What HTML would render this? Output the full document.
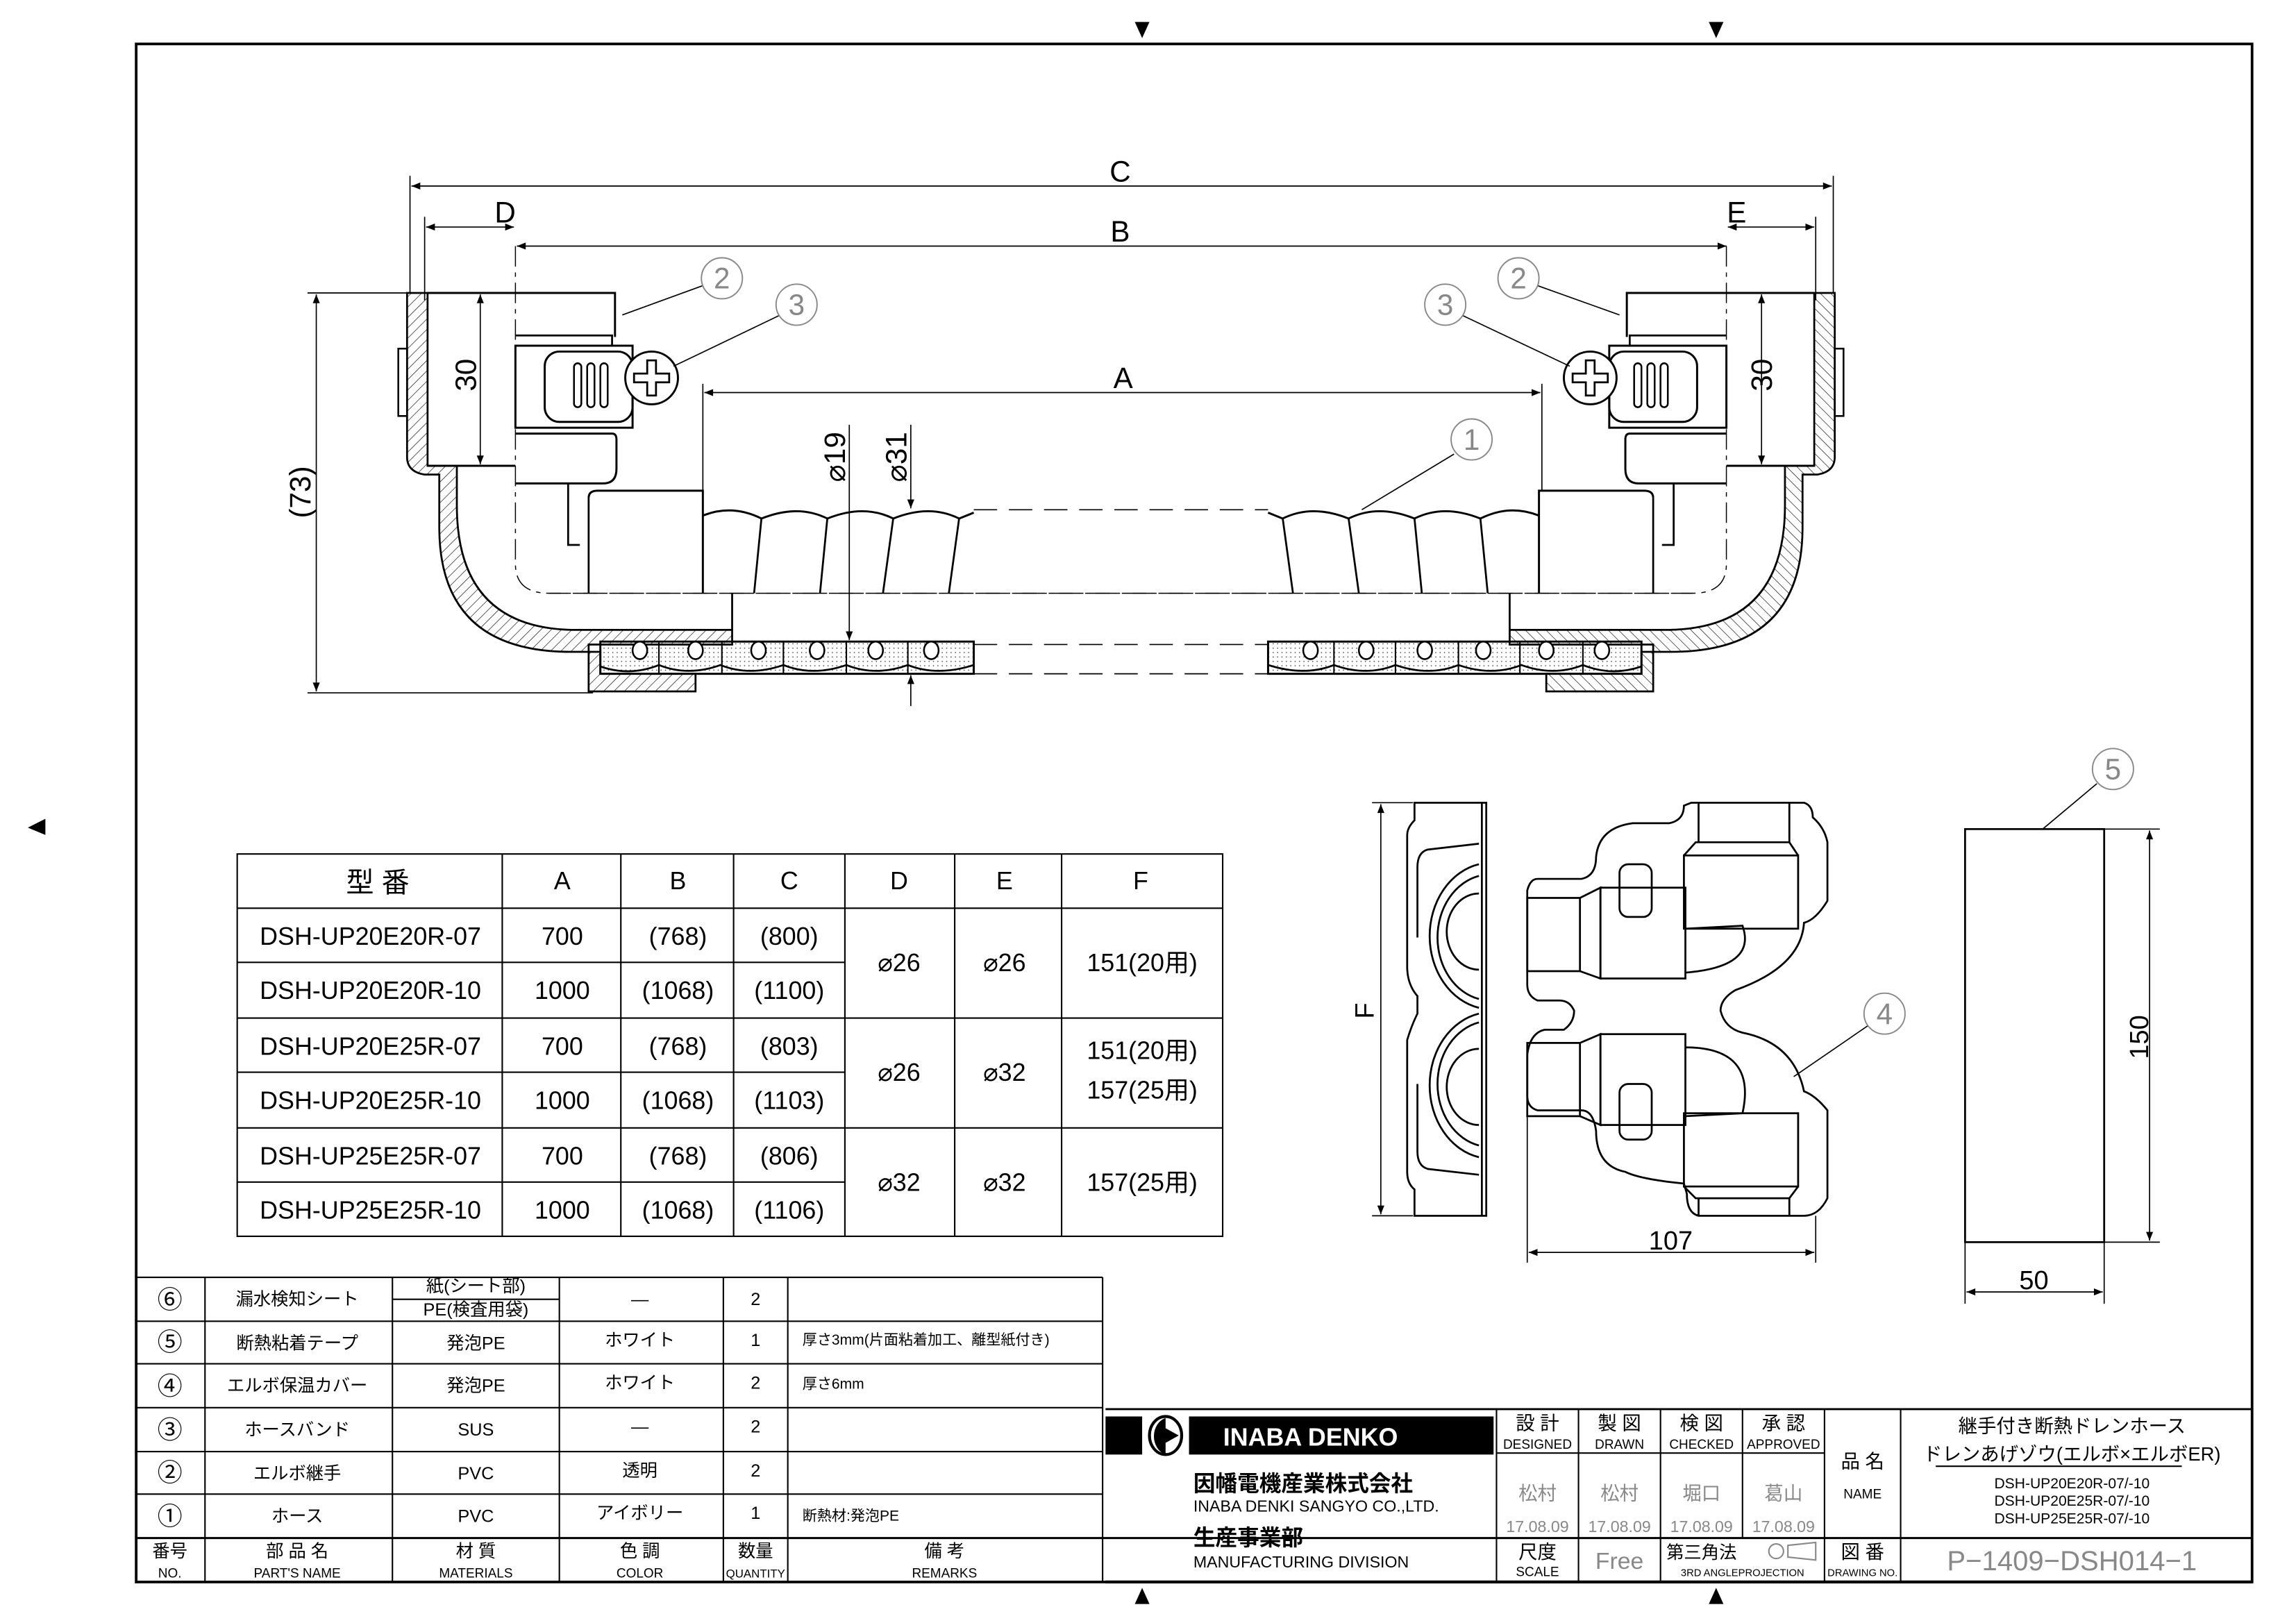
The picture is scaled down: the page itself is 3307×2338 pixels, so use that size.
<!DOCTYPE html>
<html><head><meta charset="utf-8"><style>
html,body{margin:0;padding:0;background:#fff;}
svg{display:block;}
text{font-family:"Liberation Sans","Noto Sans CJK JP",sans-serif;fill:#000;}
</style></head><body>
<svg width="3307" height="2338" viewBox="0 0 1568 1108" preserveAspectRatio="none" xmlns="http://www.w3.org/2000/svg">
<defs>
<pattern id="h" width="5" height="5" patternUnits="userSpaceOnUse" patternTransform="rotate(45)"><line x1="0" y1="0" x2="0" y2="5" stroke="#000" stroke-width="0.6"/></pattern>
<pattern id="d" width="3" height="3" patternUnits="userSpaceOnUse"><circle cx="1.5" cy="1.5" r="0.4" fill="#444"/></pattern>
<marker id="a" viewBox="0 0 10 10" refX="10" refY="5" markerWidth="8" markerHeight="6" orient="auto-start-reverse" markerUnits="userSpaceOnUse"><path d="M0,1 L10,5 L0,9z" fill="#000"/></marker>
<g id="elbow" fill="none" stroke="#000">
 <path d="M278,200 L292,200 L292,318 L312,318 L312,345 Q312,428 390,430 L500,430 L500,440 L402,440 L402,472 L475,472 L475,460 L410,460 L410,445 L390,445 Q300,445 300,360 L300,324 L290,324 Q278,322 278,312 Z" fill="url(#h)" stroke-width="1.3"/>
 <rect x="272" y="238" width="6" height="46" stroke-width="1.2"/>
 <path d="M292,200 L420,200 L420,230" stroke-width="1.4"/>
 <path d="M292,318 L352,318" stroke-width="1.4"/>
 <path d="M352,229 L418,229 L418,236" stroke-width="1.3"/>
 <rect x="352" y="236" width="80" height="56" stroke-width="1.4"/>
 <rect x="372" y="240" width="60" height="48" rx="10" stroke-width="1.4"/>
 <rect x="392" y="248" width="5" height="30" rx="2.5" stroke-width="1.2"/>
 <rect x="401" y="248" width="5" height="30" rx="2.5" stroke-width="1.2"/>
 <rect x="410" y="248" width="5" height="30" rx="2.5" stroke-width="1.2"/>
 <circle cx="445" cy="258" r="18" fill="#fff" stroke-width="1.4"/>
 <path d="M433,255 L442,255 L442,246 L448,246 L448,255 L457,255 L457,261 L448,261 L448,270 L442,270 L442,261 L433,261 Z" stroke-width="1.3"/>
 <path d="M352,296 L418,296 Q421,296 421,300 L421,320 Q421,330 412,330 L352,330" stroke-width="1.4"/>
 <path d="M388,330 L388,372 L396,372" stroke-width="1.3"/>
 <path d="M402,340 Q402,335 408,335 L480,335 L480,405" stroke-width="1.4"/>
 <path d="M402,340 L402,405" stroke-width="1.3"/>
 <path d="M352,168 L352,385 Q352,405 375,405 L1156,405" stroke-width="0.7" stroke-dasharray="14,4,3,4"/>
 <path d="M480,352 Q500,344 520,354 Q545,344 565,354 Q590,344 610,354 Q635,344 655,354 L665,350" stroke-width="1.4"/>
 <line x1="520" y1="354" x2="515" y2="405" stroke-width="1.3"/>
 <line x1="565" y1="354" x2="560" y2="405" stroke-width="1.3"/>
 <line x1="610" y1="354" x2="603" y2="405" stroke-width="1.3"/>
 <line x1="655" y1="354" x2="648" y2="405" stroke-width="1.3"/>
 <line x1="500" y1="405" x2="500" y2="430" stroke-width="1.3"/>
 <rect x="410" y="438" width="255" height="22" fill="url(#d)" stroke-width="1.4"/>
 <path d="M410,455 Q430,462 450,454 Q470,462 492,454 Q512,462 535,454 Q555,462 578,454 Q598,462 620,454 Q640,462 665,454" stroke-width="1.3"/>
 <g stroke-width="1.2" fill="#fff">
  <ellipse cx="437" cy="444" rx="5" ry="6"/><ellipse cx="475" cy="444" rx="5" ry="6"/><ellipse cx="518" cy="444" rx="5" ry="6"/><ellipse cx="558" cy="444" rx="5" ry="6"/><ellipse cx="598" cy="444" rx="5" ry="6"/><ellipse cx="636" cy="444" rx="5" ry="6"/>
 </g>
 <g stroke-width="1"><line x1="450" y1="438" x2="450" y2="460"/><line x1="493" y1="438" x2="493" y2="460"/><line x1="535" y1="438" x2="535" y2="460"/><line x1="578" y1="438" x2="578" y2="460"/><line x1="620" y1="438" x2="620" y2="460"/></g>
</g>
</defs>

<rect x="93" y="30" width="1445" height="1050" fill="none" stroke="#000" stroke-width="1.8"/>
<path d="M775,15 L785,15 L780,26z M1167,15 L1177,15 L1172,26z M775,1095 L785,1095 L780,1084z M1167,1095 L1177,1095 L1172,1084z M31,559 L31,570 L19,565z" fill="#000"/>

<use href="#elbow"/>
<use href="#elbow" transform="translate(1531,0) scale(-1,1)"/>
<g stroke="#000" stroke-width="0.8" stroke-dasharray="16,8">
 <line x1="665" y1="348" x2="866" y2="348"/><line x1="665" y1="440" x2="866" y2="440"/><line x1="665" y1="460" x2="866" y2="460"/>
</g>

<g stroke="#000" stroke-width="0.8" fill="none">
 <line x1="280" y1="120" x2="280" y2="200"/><line x1="1252" y1="120" x2="1252" y2="200"/>
 <line x1="281" y1="127" x2="1251" y2="127" marker-start="url(#a)" marker-end="url(#a)"/>
 <line x1="290" y1="148" x2="290" y2="205"/><line x1="1240" y1="148" x2="1240" y2="205"/>
 <line x1="291" y1="155" x2="351" y2="155" marker-start="url(#a)" marker-end="url(#a)"/>
 <line x1="1180" y1="155" x2="1239" y2="155" marker-start="url(#a)" marker-end="url(#a)"/>
 <line x1="353" y1="168" x2="1179" y2="168" marker-start="url(#a)" marker-end="url(#a)"/>
 <line x1="481" y1="268" x2="1052" y2="268" marker-start="url(#a)" marker-end="url(#a)"/>
 <line x1="480" y1="262" x2="480" y2="335"/><line x1="1053" y1="262" x2="1053" y2="335"/>
 <line x1="328" y1="201" x2="328" y2="317" marker-start="url(#a)" marker-end="url(#a)"/>
 <line x1="1203" y1="201" x2="1203" y2="317" marker-start="url(#a)" marker-end="url(#a)"/>
 <line x1="210" y1="200" x2="278" y2="200"/><line x1="210" y1="473" x2="405" y2="473"/>
 <line x1="216" y1="201" x2="216" y2="472" marker-start="url(#a)" marker-end="url(#a)"/>
 <line x1="580" y1="290" x2="580" y2="437" marker-end="url(#a)"/>
 <line x1="622" y1="290" x2="622" y2="347" marker-end="url(#a)"/>
 <line x1="622" y1="482" x2="622" y2="461" marker-end="url(#a)"/>
 <line x1="425" y1="215" x2="480" y2="195"/><line x1="460" y1="250" x2="533" y2="215"/>
 <line x1="1106" y1="215" x2="1050" y2="195"/><line x1="1072" y1="250" x2="998" y2="215"/>
 <line x1="930" y1="348" x2="993" y2="310"/>
 <line x1="1225" y1="735" x2="1276" y2="700"/>
 <line x1="1395" y1="566" x2="1432" y2="535"/>
</g>
<g font-size="20" text-anchor="middle">
 <text x="765" y="124">C</text><text x="345" y="152">D</text><text x="1186" y="152">E</text>
 <text x="765" y="165">B</text><text x="767" y="265">A</text>
 <text transform="translate(325,256) rotate(-90)">30</text>
 <text transform="translate(1210,256) rotate(-90)">30</text>
 <text transform="translate(212,336) rotate(-90)">(73)</text>
 <text transform="translate(577,312) rotate(-90)">⌀19</text>
 <text transform="translate(619,312) rotate(-90)">⌀31</text>
</g>
<g fill="#fff" stroke="#888" stroke-width="0.9">
 <circle cx="493" cy="190" r="14"/><circle cx="544" cy="208" r="14"/><circle cx="1005" cy="300" r="14"/>
 <circle cx="1037" cy="190" r="14"/><circle cx="987" cy="208" r="14"/><circle cx="1443" cy="525" r="14"/><circle cx="1287" cy="692" r="14"/>
</g>
<g font-size="20" text-anchor="middle">
 <text x="493" y="197" style="fill:#888">2</text><text x="544" y="215" style="fill:#888">3</text><text x="1005" y="307" style="fill:#888">1</text>
 <text x="1037" y="197" style="fill:#888">2</text><text x="987" y="215" style="fill:#888">3</text><text x="1443" y="532" style="fill:#888">5</text><text x="1287" y="699" style="fill:#888">4</text>
</g>

<g fill="none" stroke="#000" stroke-width="1.3">
 <path d="M966,548 L1015,548 L1015,830 L966,830 L966,812 Q961,808 961,800 L961,710 Q964,700 968,692 L968,680 Q961,672 961,660 L961,570 Q961,565 966,560 Z"/>
 <line x1="1012" y1="548" x2="1012" y2="830"/>
 <path d="M1010,576 L975,580 Q968,582 968,592 L968,640"/>
 <path d="M1010,802 L975,798 Q968,796 968,786 L968,740"/>
 <path d="M1010,590 A42,50 0 0 0 1010,688"/><path d="M1010,598 A36,43 0 0 0 1010,682"/>
 <path d="M1010,610 A22,26 0 0 0 1010,662"/>
 <path d="M1010,692 A42,50 0 0 0 1010,790"/><path d="M1010,698 A36,43 0 0 0 1010,782"/>
 <path d="M1010,716 A22,26 0 0 0 1010,768"/>
</g>
<g fill="none" stroke="#000" stroke-width="1.3">
 <path d="M1050,600 L1080,600 Q1090,598 1090,585 Q1092,565 1115,562 L1140,562 Q1150,560 1150,550 L1155,548 L1232,548 Q1238,550 1238,558 Q1246,565 1248,575 L1248,615 Q1240,628 1232,630 Q1230,660 1185,676 Q1175,682 1175,690 Q1178,702 1190,705 Q1225,712 1232,745 Q1240,748 1248,758 L1248,818 Q1242,830 1232,830 L1160,830 Q1152,828 1152,815 L1150,808 Q1120,805 1110,800 Q1090,796 1090,772 Q1088,758 1080,758 L1050,758 Q1043,756 1043,748 L1043,720 Q1045,705 1055,703 L1068,703 Q1075,698 1075,690 Q1072,683 1065,683 L1050,683 Q1043,680 1043,672 L1043,608 Q1045,600 1050,600 Z"/>
 <rect x="1043" y="613" width="36" height="50"/><path d="M1079,613 L1093,606 L1093,668 L1079,663"/>
 <rect x="1093" y="606" width="58" height="62"/>
 <rect x="1106" y="590" width="22" height="36" rx="6"/>
 <rect x="1150" y="584" width="78" height="50"/><path d="M1150,584 L1158,575 L1222,575 L1228,584"/>
 <path d="M1151,634 L1190,632 Q1200,660 1151,664"/>
 <line x1="1160" y1="548" x2="1160" y2="575"/><line x1="1222" y1="548" x2="1222" y2="575"/>
 <rect x="1043" y="712" width="36" height="50"/><path d="M1079,712 L1093,706 L1093,768 L1079,762"/>
 <rect x="1093" y="706" width="58" height="62"/>
 <rect x="1106" y="740" width="22" height="38" rx="6"/>
 <rect x="1150" y="760" width="78" height="50"/><path d="M1150,810 L1158,818 L1222,818 L1228,810"/>
 <path d="M1151,715 Q1200,715 1190,760 L1151,762"/>
 <line x1="1160" y1="818" x2="1160" y2="830"/><line x1="1222" y1="818" x2="1222" y2="830"/>
</g>
<g stroke="#000" stroke-width="0.8" fill="none">
 <line x1="937" y1="548" x2="965" y2="548"/><line x1="937" y1="830" x2="965" y2="830"/>
 <line x1="943" y1="549" x2="943" y2="829" marker-start="url(#a)" marker-end="url(#a)"/>
 <line x1="1043" y1="760" x2="1043" y2="862"/><line x1="1240" y1="830" x2="1240" y2="862"/>
 <line x1="1044" y1="855" x2="1239" y2="855" marker-start="url(#a)" marker-end="url(#a)"/>
 <rect x="1342" y="566" width="95" height="282" stroke-width="1.3"/>
 <line x1="1437" y1="566" x2="1475" y2="566"/><line x1="1437" y1="848" x2="1475" y2="848"/>
 <line x1="1468" y1="567" x2="1468" y2="847" marker-start="url(#a)" marker-end="url(#a)"/>
 <line x1="1342" y1="848" x2="1342" y2="890"/><line x1="1437" y1="848" x2="1437" y2="890"/>
 <line x1="1343" y1="882" x2="1436" y2="882" marker-start="url(#a)" marker-end="url(#a)"/>
</g>
<g font-size="18" text-anchor="middle">
 <text transform="translate(938,690) rotate(-90)">F</text>
 <text x="1141" y="853">107</text>
 <text transform="translate(1467,708) rotate(-90)">150</text>
 <text x="1389" y="880">50</text>
</g>

<g stroke="#000" stroke-width="1" fill="none">
 <rect x="162" y="583" width="673" height="261"/>
 <line x1="162" y1="620" x2="835" y2="620"/>
 <line x1="162" y1="657" x2="577" y2="657"/>
 <line x1="162" y1="695" x2="835" y2="695"/>
 <line x1="162" y1="732" x2="577" y2="732"/>
 <line x1="162" y1="770" x2="835" y2="770"/>
 <line x1="162" y1="807" x2="577" y2="807"/>
 <line x1="343" y1="583" x2="343" y2="844"/><line x1="424" y1="583" x2="424" y2="844"/>
 <line x1="501" y1="583" x2="501" y2="844"/><line x1="577" y1="583" x2="577" y2="844"/>
 <line x1="652" y1="583" x2="652" y2="844"/><line x1="725" y1="583" x2="725" y2="844"/>
</g>
<g font-size="17" text-anchor="middle">
 <text x="258" y="609" font-size="19">型 番</text><text x="384" y="607">A</text><text x="463" y="607">B</text><text x="539" y="607">C</text><text x="614" y="607">D</text><text x="686" y="607">E</text><text x="779" y="607">F</text>
 <text x="253" y="645">DSH-UP20E20R-07</text><text x="384" y="645">700</text><text x="463" y="645">(768)</text><text x="539" y="645">(800)</text>
 <text x="253" y="682">DSH-UP20E20R-10</text><text x="384" y="682">1000</text><text x="463" y="682">(1068)</text><text x="539" y="682">(1100)</text>
 <text x="253" y="720">DSH-UP20E25R-07</text><text x="384" y="720">700</text><text x="463" y="720">(768)</text><text x="539" y="720">(803)</text>
 <text x="253" y="757">DSH-UP20E25R-10</text><text x="384" y="757">1000</text><text x="463" y="757">(1068)</text><text x="539" y="757">(1103)</text>
 <text x="253" y="795">DSH-UP25E25R-07</text><text x="384" y="795">700</text><text x="463" y="795">(768)</text><text x="539" y="795">(806)</text>
 <text x="253" y="832">DSH-UP25E25R-10</text><text x="384" y="832">1000</text><text x="463" y="832">(1068)</text><text x="539" y="832">(1106)</text>
 <text x="614" y="663">⌀26</text><text x="686" y="663">⌀26</text><text x="780" y="663">151(20用)</text>
 <text x="614" y="738">⌀26</text><text x="686" y="738">⌀32</text><text x="780" y="723">151(20用)</text><text x="780" y="750">157(25用)</text>
 <text x="614" y="813">⌀32</text><text x="686" y="813">⌀32</text><text x="780" y="813">157(25用)</text>
</g>

<g stroke="#000" stroke-width="1" fill="none">
 <line x1="93" y1="872" x2="753" y2="872"/>
 <line x1="93" y1="902" x2="753" y2="902"/><line x1="93" y1="931" x2="753" y2="931"/>
 <line x1="93" y1="961" x2="753" y2="961"/><line x1="93" y1="991" x2="753" y2="991"/>
 <line x1="93" y1="1020" x2="753" y2="1020"/><line x1="93" y1="1050" x2="1538" y2="1050" stroke-width="1.4"/>
 <line x1="268" y1="887" x2="382" y2="887"/>
 <line x1="140" y1="872" x2="140" y2="1080"/><line x1="268" y1="872" x2="268" y2="1080"/>
 <line x1="382" y1="872" x2="382" y2="1080"/><line x1="494" y1="872" x2="494" y2="1080"/>
 <line x1="538" y1="872" x2="538" y2="1080"/><line x1="753" y1="872" x2="753" y2="1080"/>
</g>
<g font-size="12" text-anchor="middle">
 <text x="116" y="893" font-size="17">⑥</text><text x="116" y="922" font-size="17">⑤</text><text x="116" y="952" font-size="17">④</text>
 <text x="116" y="982" font-size="17">③</text><text x="116" y="1011" font-size="17">②</text><text x="116" y="1041" font-size="17">①</text>
 <text x="203" y="891">漏水検知シート</text><text x="325" y="882">紙(シート部)</text><text x="325" y="898">PE(検査用袋)</text><text x="437" y="891">—</text><text x="516" y="891">2</text>
 <text x="203" y="921">断熱粘着テープ</text><text x="325" y="921">発泡PE</text><text x="437" y="919">ホワイト</text><text x="516" y="919">1</text><text x="548" y="918" text-anchor="start" font-size="10">厚さ3mm(片面粘着加工、離型紙付き)</text>
 <text x="203" y="950">エルボ保温カバー</text><text x="325" y="950">発泡PE</text><text x="437" y="948">ホワイト</text><text x="516" y="948">2</text><text x="548" y="948" text-anchor="start" font-size="10">厚さ6mm</text>
 <text x="203" y="980">ホースバンド</text><text x="325" y="980">SUS</text><text x="437" y="978">—</text><text x="516" y="978">2</text>
 <text x="203" y="1010">エルボ継手</text><text x="325" y="1010">PVC</text><text x="437" y="1008">透明</text><text x="516" y="1008">2</text>
 <text x="203" y="1039">ホース</text><text x="325" y="1039">PVC</text><text x="437" y="1037">アイボリー</text><text x="516" y="1037">1</text><text x="548" y="1038" text-anchor="start" font-size="10">断熱材:発泡PE</text>
 <text x="116" y="1063">番号</text><text x="116" y="1077" font-size="9">NO.</text>
 <text x="203" y="1063">部 品 名</text><text x="203" y="1077" font-size="9">PART'S NAME</text>
 <text x="325" y="1063">材 質</text><text x="325" y="1077" font-size="9">MATERIALS</text>
 <text x="437" y="1063">色 調</text><text x="437" y="1077" font-size="9">COLOR</text>
 <text x="516" y="1063">数量</text><text x="516" y="1077" font-size="8">QUANTITY</text>
 <text x="645" y="1063">備 考</text><text x="645" y="1077" font-size="9">REMARKS</text>
</g>

<g stroke="#000" stroke-width="1" fill="none">
 <line x1="755" y1="962" x2="1538" y2="962" stroke-width="1.4"/>
 <line x1="1022" y1="962" x2="1022" y2="1080"/><line x1="1078" y1="962" x2="1078" y2="1080"/>
 <line x1="1134" y1="962" x2="1134" y2="1080"/><line x1="1190" y1="962" x2="1190" y2="1050"/>
 <line x1="1246" y1="962" x2="1246" y2="1080"/><line x1="1298" y1="962" x2="1298" y2="1080"/>
 <line x1="1022" y1="992" x2="1246" y2="992"/>
 <line x1="1322" y1="1001" x2="1490" y2="1001"/>
</g>
<rect x="755" y="967" width="25" height="26" fill="#000"/>
<ellipse cx="796" cy="980" rx="11" ry="13" fill="#fff" stroke="#000" stroke-width="2"/>
<path d="M796,968 A11,13 0 0 0 796,993 L796,985 L805,980 L796,975 Z" fill="#000"/>
<rect x="812" y="967" width="208" height="26" fill="#000"/>
<text x="895" y="987" font-size="17" font-weight="bold" text-anchor="middle" style="fill:#fff">INABA DENKO</text>
<g font-size="12">
 <text x="815" y="1018" font-size="15" font-weight="bold">因幡電機産業株式会社</text>
 <text x="815" y="1032" font-size="11">INABA DENKI SANGYO CO.,LTD.</text>
 <text x="815" y="1055" font-size="15" font-weight="bold">生産事業部</text>
 <text x="815" y="1070" font-size="11">MANUFACTURING DIVISION</text>
</g>
<g font-size="13" text-anchor="middle">
 <text x="1050" y="976">設 計</text><text x="1050" y="989" font-size="9">DESIGNED</text>
 <text x="1106" y="976">製 図</text><text x="1106" y="989" font-size="9">DRAWN</text>
 <text x="1162" y="976">検 図</text><text x="1162" y="989" font-size="9">CHECKED</text>
 <text x="1218" y="976">承 認</text><text x="1218" y="989" font-size="9">APPROVED</text>
 <text x="1050" y="1024" style="fill:#888">松村</text><text x="1106" y="1024" style="fill:#888">松村</text>
 <text x="1162" y="1024" style="fill:#888">堀口</text><text x="1218" y="1024" style="fill:#888">葛山</text>
 <text x="1050" y="1046" font-size="11" style="fill:#888">17.08.09</text><text x="1106" y="1046" font-size="11" style="fill:#888">17.08.09</text>
 <text x="1162" y="1046" font-size="11" style="fill:#888">17.08.09</text><text x="1218" y="1046" font-size="11" style="fill:#888">17.08.09</text>
 <text x="1272" y="1002">品 名</text><text x="1272" y="1023" font-size="9">NAME</text>
 <text x="1415" y="978">継手付き断熱ドレンホース</text>
 <text x="1415" y="997">ドレンあげゾウ(エルボ×エルボER)</text>
 <text x="1415" y="1016" font-size="10">DSH-UP20E20R-07/-10</text>
 <text x="1415" y="1028" font-size="10">DSH-UP20E25R-07/-10</text>
 <text x="1415" y="1040" font-size="10">DSH-UP25E25R-07/-10</text>
 <text x="1050" y="1064">尺度</text><text x="1050" y="1076" font-size="9">SCALE</text>
 <text x="1106" y="1071" font-size="16" style="fill:#888">Free</text>
 <text x="1162" y="1064" font-size="12">第三角法</text><text x="1190" y="1076" font-size="7">3RD ANGLEPROJECTION</text>
 <text x="1272" y="1064">図 番</text><text x="1272" y="1076" font-size="7">DRAWING NO.</text>
 <text x="1415" y="1072" font-size="19" style="fill:#888">P−1409−DSH014−1</text>
</g>
<circle cx="1213" cy="1059" r="5" fill="none" stroke="#888"/><path d="M1221,1055 L1240,1053 L1240,1065 L1221,1063Z" fill="none" stroke="#888"/>
<line x1="755" y1="1080" x2="1538" y2="1080" stroke="#000" stroke-width="2"/>
</svg>
</body></html>
